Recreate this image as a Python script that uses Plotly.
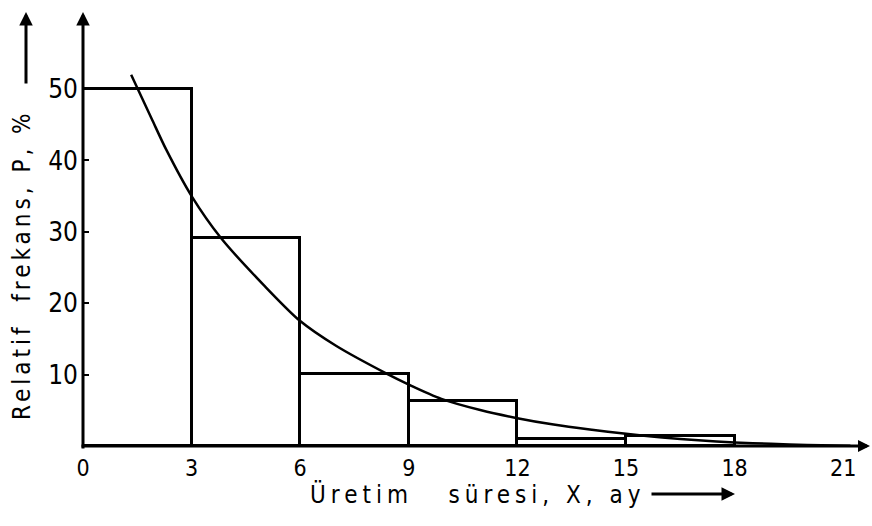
import plotly.graph_objects as go

# ---- data ----
bin_left = [0, 3, 6, 9, 12, 15]
bin_width = [3, 3, 3, 3, 3, 3]
rel_freq = [50, 29.2, 10.1, 6.3, 1.0, 1.4]

curve_x = [1.33, 1.9, 2.3, 3, 3.8, 5, 6, 7, 8.4, 9, 9.9, 11, 12, 13, 14, 15, 16, 17, 18, 19, 20, 21.2]
curve_y = [52, 45.8, 41.5, 35, 29.2, 22.5, 17.5, 14, 10.1, 8.6, 6.6, 5.0, 3.9, 3.0, 2.3, 1.7, 1.2, 0.8, 0.5, 0.3, 0.15, 0.05]

x_ticks = [0, 3, 6, 9, 12, 15, 18, 21]
y_ticks = [10, 20, 30, 40, 50]

y_title = '<span style="letter-spacing:4px">Relatif\u00a0\u00a0frekans,\u00a0P,\u00a0%</span>'
x_title = '<span style="letter-spacing:5px">Üretim\u00a0\u00a0\u00a0süresi,\u00a0X,\u00a0ay</span>'

FONT = "DejaVu Sans Condensed, Liberation Sans Narrow, DejaVu Sans, sans-serif"
W, H = 872, 526
L, B = 83, 80
PW, PH = W - L, H - B
XPX, YPX = 36.2, 7.14  # px per unit


def px(xp):
    return (xp - L) / PW


def py(yp):
    return (PH - yp) / PH


fig = go.Figure()
fig.add_trace(go.Bar(
    x=[l + w / 2 for l, w in zip(bin_left, bin_width)],
    y=rel_freq,
    width=bin_width,
    marker=dict(color="rgba(0,0,0,0)", line=dict(color="black", width=3)),
    showlegend=False,
))
fig.add_trace(go.Scatter(
    x=curve_x, y=curve_y, mode="lines",
    line=dict(color="black", width=2.5, shape="spline", smoothing=0.8),
    showlegend=False,
))

annotations = [
    # y axis with arrow
    dict(xref="paper", yref="paper", x=0, y=py(12), ax=0, ay=PH - 12 + 4,
         text="", showarrow=True, arrowhead=2, arrowsize=0.9, arrowwidth=3, arrowcolor="black", standoff=0),
    # x axis with arrow
    dict(xref="paper", yref="paper", x=px(870), y=0, ax=-(870 - 80), ay=0,
         text="", showarrow=True, arrowhead=2, arrowsize=0.8, arrowwidth=3, arrowcolor="black", standoff=0),
    # y title arrow
    dict(xref="paper", yref="paper", x=px(26), y=py(12), ax=0, ay=73,
         text="", showarrow=True, arrowhead=2, arrowsize=0.9, arrowwidth=3, arrowcolor="black", standoff=0),
    # x title arrow
    dict(xref="paper", yref="paper", x=px(735), y=py(494), ax=-85, ay=0,
         text="", showarrow=True, arrowhead=2, arrowsize=0.9, arrowwidth=3, arrowcolor="black", standoff=0),
    # titles
    dict(xref="paper", yref="paper", x=px(22), y=py(265), text=y_title, textangle=-90,
         showarrow=False, font=dict(family=FONT, size=24, color="black"), xanchor="center", yanchor="middle"),
    dict(xref="paper", yref="paper", x=px(478), y=py(494), text=x_title,
         showarrow=False, font=dict(family=FONT, size=24, color="black"), xanchor="center", yanchor="middle"),
]

fig.update_layout(
    width=W, height=H,
    margin=dict(l=L, r=0, t=0, b=B, pad=0),
    paper_bgcolor="white", plot_bgcolor="white",
    bargap=0,
    annotations=annotations,
    xaxis=dict(range=[0, PW / XPX], tickvals=x_ticks, ticktext=[str(v) for v in x_ticks],
               showgrid=False, zeroline=False, showline=False,
               ticks="outside", ticklen=1, tickcolor="rgba(0,0,0,0)",
               tickfont=dict(family=FONT, size=23, color="black"), fixedrange=True),
    yaxis=dict(range=[0, PH / YPX], tickvals=y_ticks, ticktext=[str(v) for v in y_ticks],
               showgrid=False, zeroline=False, showline=False,
               ticks="inside", ticklen=6, tickwidth=2, tickcolor="black",
               ticklabelstandoff=4,
               tickfont=dict(family=FONT, size=26, color="black"), fixedrange=True),
)

fig.write_html("out.html")
